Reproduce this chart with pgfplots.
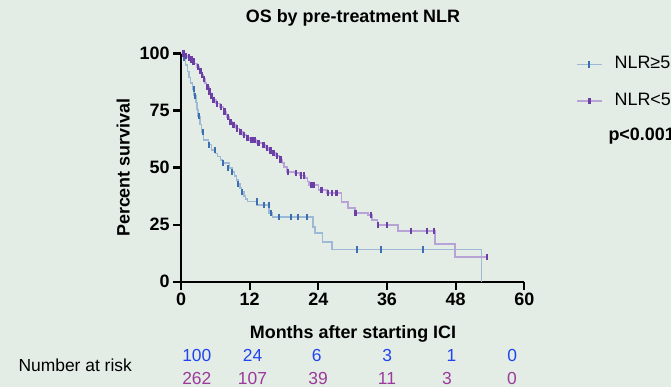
\documentclass[border=0pt]{standalone}
\usepackage{pgfplots}
\pgfplotsset{compat=1.18}
\usepackage{fontspec}
\setmainfont{Liberation Sans}
\definecolor{bg}{HTML}{E3EDE6}
\definecolor{blueline}{HTML}{9DB9D6}
\definecolor{bluemark}{HTML}{3C6FB0}
\definecolor{purpline}{HTML}{B7A3D6}
\definecolor{purpmark}{HTML}{6B3FA6}
\definecolor{riskblue}{HTML}{2244F0}
\definecolor{riskpurp}{HTML}{9B3A9B}
\begin{document}
\begin{tikzpicture}[x=1bp,y=1bp]
\fill[bg] (0,0) rectangle (671,387);
\useasboundingbox (0,0) rectangle (671,387);
\begin{axis}[
  at={(181bp,105.3bp)}, anchor=south west,
  scale only axis, width=343.3bp, height=228.2bp,
  xmin=0, xmax=60, ymin=0, ymax=100,
  clip=false,
  axis x line*=bottom, axis y line*=left,
  axis line style={line width=2.2bp, black, -},
  xtick={0,12,...,60}, ytick={0,25,50,75,100},
  minor tick num=0,
  tick style={line width=2.2bp, black},
  tick align=outside, major tick length=8bp,
  /pgf/number format/assume math mode=true,
  tick label style={font=\fontsize{18}{20}\selectfont\bfseries},
  legend style={draw=none, fill=none, at={(axis description cs:1.1506,0.99)}, anchor=north west,
    font=\fontsize{18}{20}\selectfont, inner sep=0pt, row sep=19.7bp, column sep=12bp,
    nodes={inner sep=0pt, text height=13bp, text depth=4bp}},
  legend cell align=left,
  legend image code/.code={\draw[mark repeat=2,mark phase=2,#1] plot coordinates {(0bp,0bp) (12.5bp,0bp) (25bp,0bp)};},
]
% NLR>=5
\addplot[forget plot, const plot, blueline, line width=1.4bp] coordinates {
(0,100) (0.4,98) (0.8,95) (1.1,92) (1.4,89.5) (1.7,87) (2.0,84.5) (2.3,81.5) (2.6,78.5)
(2.8,75.5) (3.0,72.5) (3.3,69) (3.6,65.5) (3.9,62.1) (4.8,60) (5.3,57.7) (6.0,56.2)
(6.4,54.8) (6.9,53.3) (7.3,52.0) (8.5,49.8) (8.9,48) (9.3,46.3) (9.7,44.6) (10.0,42.8)
(10.3,41) (10.6,39.3) (11.0,37.6) (11.3,36.2) (11.6,35.1) (13.2,33.6) (15.4,30.1)
(16.0,28.4) (23.1,24.0) (23.4,21.3) (24.7,17.4) (26.4,14.1) (52.5,0)};
\addplot[forget plot, only marks, mark=|, mark size=3.2bp, mark options={bluemark, line width=2bp}] coordinates {
(0.6,98) (2.2,84.5) (2.4,81.5) (3.1,72.5) (3.8,65.5) (4.9,60) (5.9,57.7) (7.4,52)
(8.2,49.8) (8.9,48) (10.0,42.8) (10.7,39.3) (13.3,35.1) (14.5,33.6) (15.3,33.6)
(15.8,30.1) (17.1,28.4) (19.2,28.4) (20.5,28.4) (22.0,28.4) (30.8,14.1) (35.0,14.1) (42.3,14.1)};
% NLR<5
\addplot[forget plot, const plot, purpline, line width=1.4bp] coordinates {
(0,100) (0.7,99) (1.2,98.2) (1.6,97.4) (2.0,96.5) (2.4,95.5) (2.8,94) (3.2,92.4) (3.6,90.6)
(3.9,88.8) (4.2,87) (4.5,85.3) (4.9,83.4) (5.2,81.5) (5.5,79.7) (6.1,78) (6.8,76.6)
(7.4,74.5) (8.0,72.2) (8.5,70) (9.0,68.7) (9.6,67.2) (10.2,65.6) (10.8,64.2) (11.4,63)
(12.0,62.1) (13.2,60.8) (14.2,59.9) (14.8,58.6) (15.4,57.5) (16.0,56.4) (16.6,55)
(17.2,53.5) (17.7,52) (18.0,50.3) (18.5,48.1) (19.8,47.6) (20.8,46.5) (21.8,45.4)
(22.1,43.8) (22.4,42.4) (24.0,40.2) (25.5,38.9) (28.1,34.9) (29.2,32.3) (30.4,30.1)
(32.7,29.2) (33.4,27.0) (34.3,24.8) (37.9,22.2) (44.4,16.5) (47.9,10.8) (53.5,10.8)};
\addplot[forget plot, only marks, mark=|, mark size=3.2bp, mark options={purpmark, line width=2.6bp}] coordinates {
(0.4,100) (0.9,99) (1.4,98.2) (1.8,97.4) (2.2,96.5) (3.0,94) (3.4,92.4) (3.7,90.6)
(4.0,88.8) (4.6,85.3) (5.0,83.4) (5.3,81.5) (5.7,79.7) (6.3,78) (7.0,76.6) (7.6,74.5)
(8.2,72.2) (8.7,70) (9.2,68.7) (9.8,67.2) (10.4,65.6) (11.0,64.2) (11.6,63) (12.3,62.1)
(12.8,62.1) (13.5,60.8) (14.4,59.9) (15.0,58.6) (15.6,57.5) (16.2,56.4) (16.8,55)
(17.4,53.5) (18.7,48.1) (20.1,47.6) (21.0,46.5) (21.5,46.5) (22.7,42.4) (23.2,42.4)
(24.6,40.2) (25.7,38.9) (26.4,38.9) (27.2,38.9) (30.5,30.1) (33.2,29.2) (34.4,24.8)
(36.0,24.8) (40.2,22.2) (43.0,22.2) (44.2,22.2) (53.5,10.8)};
\addlegendimage{blueline, line width=1.4bp, mark=|, mark options={bluemark, line width=2bp, mark size=3.2bp}}
\addlegendentry{NLR≥5}
\addlegendimage{purpline, line width=1.4bp, mark=|, mark options={purpmark, line width=2.6bp, mark size=3.2bp}}
\addlegendentry{NLR<5}
\end{axis}
\node[anchor=base, font=\fontsize{18}{20}\selectfont\bfseries] at (353,364.3) {OS by pre-treatment NLR};
\node[anchor=base, font=\fontsize{18}{20}\selectfont\bfseries] at (353,48.5) {Months after starting ICI};
\node[anchor=base, rotate=90, font=\fontsize{18}{20}\selectfont\bfseries] at (129.5,219.4) {Percent survival};
\node[anchor=base west, font=\fontsize{18}{20}\selectfont\bfseries] at (605,246.5) {p<0.001};
\node[anchor=base west, font=\fontsize{17.5}{20}\selectfont] at (15,15.3) {Number at risk};
\begin{scope}[every node/.style={anchor=base, font=\fontsize{17.5}{20}\selectfont}]
\node[riskblue] at (196.8,25.3) {100};
\node[riskblue] at (252.5,25.3) {24};
\node[riskblue] at (316.6,25.3) {6};
\node[riskblue] at (387.2,25.3) {3};
\node[riskblue] at (451.4,25.3) {1};
\node[riskblue] at (512.2,25.3) {0};
\node[riskpurp] at (196.8,2.7) {262};
\node[riskpurp] at (252.5,2.7) {107};
\node[riskpurp] at (318,2.7) {39};
\node[riskpurp] at (387,2.7) {11};
\node[riskpurp] at (447,2.7) {3};
\node[riskpurp] at (512,2.7) {0};
\end{scope}
\end{tikzpicture}
\end{document}
